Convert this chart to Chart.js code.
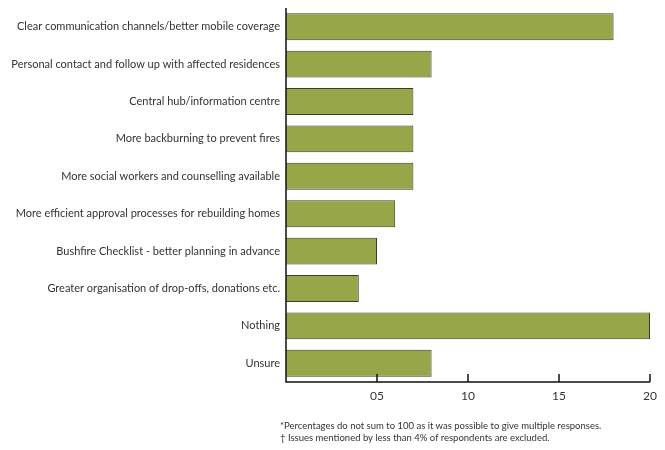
<!DOCTYPE html>
<html>
<head>
<meta charset="utf-8">
<script src="https://cdn.jsdelivr.net/npm/chart.js@4.4.1/dist/chart.umd.min.js"></script>
<style>
  html, body { margin: 0; padding: 0; background: #fff; }
  #wrap { position: relative; width: 665px; height: 450px; }
  #note {
    position: absolute; left: 280px; top: 420px;
    font-family: Lato, "Open Sans", sans-serif; font-size: 9.5px; line-height: 12px; color: #333;
  }
</style>
</head>
<body>
<div id="wrap"><canvas id="chart"></canvas>
<div id="note">*Percentages do not sum to 100 as it was possible to give multiple responses.<br>&dagger; Issues mentioned by less than 4% of respondents are excluded.</div>
</div>
<script>
const categories = [
    'Clear communication channels/better mobile coverage',
    'Personal contact and follow up with affected residences',
    'Central hub/information centre',
    'More backburning to prevent fires',
    'More social workers and counselling available',
    'More efficient approval processes for rebuilding homes',
    'Bushfire Checklist - better planning in advance',
    'Greater organisation of drop-offs, donations etc.',
    'Nothing',
    'Unsure'
];
const percentages = [18, 8, 7, 7, 7, 6, 5, 4, 20, 8];
const tickValues = [0, 5, 10, 15, 20];
const tickLabels = ['', '05', '10', '15', '20'];

// ticks in the reference point up into the plot, so draw them here
const innerTicks = {
    id: 'innerTicks',
    afterDraw(chart) {
        const c = chart.ctx;
        const x = chart.scales.x;
        const area = chart.chartArea;
        c.save();
        c.strokeStyle = '#111';
        c.lineWidth = 1.5;
        c.beginPath();
        tickValues.forEach(v => {
            if (v === 0) return;
            const px = x.getPixelForValue(v);
            c.moveTo(px, area.bottom);
            c.lineTo(px, area.bottom - 8);
        });
        // axis lines
        c.moveTo(area.left, area.top);
        c.lineTo(area.left, area.bottom);
        c.lineTo(x.getPixelForValue(20), area.bottom);
        c.stroke();
        c.restore();
    }
};

const ctx = document.getElementById('chart').getContext('2d');
new Chart(ctx, {
    type: 'bar',
    data: {
        labels: categories,
        datasets: [{
            data: percentages,
            backgroundColor: '#96a648',
            borderColor: '#3b3b2c',
            borderWidth: 1,
            barPercentage: 0.72,
            categoryPercentage: 1
        }]
    },
    options: {
        indexAxis: 'y',
        responsive: true,
        maintainAspectRatio: false,
        animation: false,
        layout: { padding: { top: 8, right: 15, left: 0, bottom: 42 } },
        plugins: {
            legend: { display: false },
            tooltip: { enabled: false }
        },
        scales: {
            x: {
                min: 0,
                max: 20,
                grid: { display: false, drawTicks: false },
                border: { display: false },
                afterBuildTicks: s => { s.ticks = tickValues.map(v => ({ value: v })); },
                afterFit: s => { s.height = 26; s.paddingLeft = 0; s.paddingRight = 0; },
                ticks: {
                    color: '#333',
                    font: { family: 'Lato, "Open Sans", sans-serif', size: 12 },
                    padding: 7,
                    maxRotation: 0,
                    callback: (v, i) => tickLabels[i]
                }
            },
            y: {
                grid: { display: false, drawTicks: false },
                border: { display: false },
                afterFit: s => { s.width = 286; s.paddingTop = 0; s.paddingBottom = 0; },
                ticks: {
                    color: '#333',
                    font: { family: 'Lato, "Open Sans", sans-serif', size: 11 },
                    padding: 6
                }
            }
        }
    },
    plugins: [innerTicks]
});
</script>
</body>
</html>
